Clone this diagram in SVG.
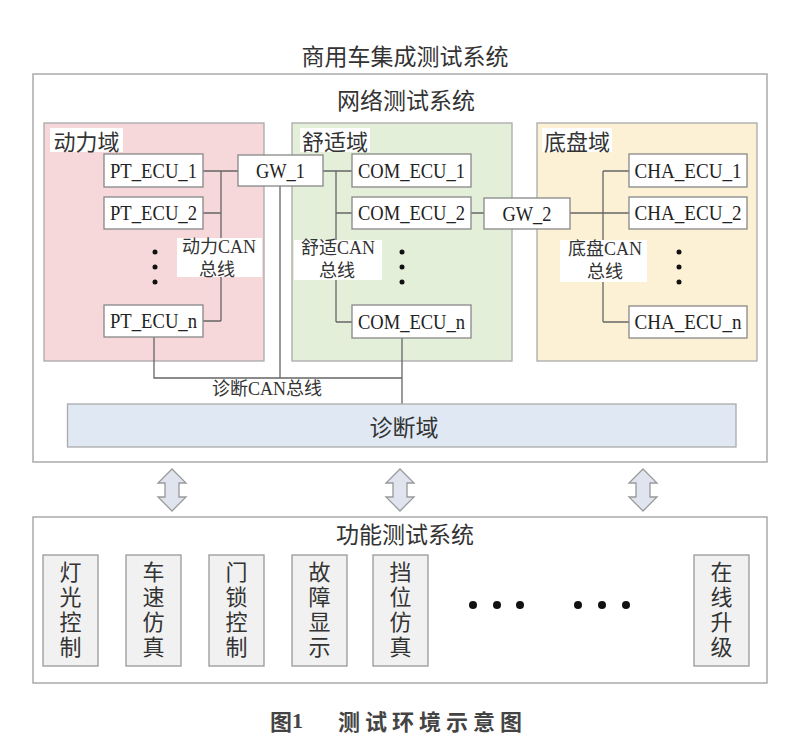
<svg xmlns="http://www.w3.org/2000/svg" width="800" height="753" viewBox="0 0 800 753">
<defs>
<style>
.cjk{font-family:"Noto Sans CJK SC","Noto Sans",sans-serif;fill:#333;}
.ser{font-family:"Liberation Serif","Noto Sans CJK SC",serif;fill:#222;}
.mix{font-family:"Liberation Serif","Noto Sans CJK SC",serif;fill:#333;}
.sys{fill:#fff;stroke:#aaa;stroke-width:1.5;}
.ecu{fill:#fff;stroke:#888;stroke-width:1.3;}
.lbl{fill:#fff;stroke:none;}
.fn{fill:#f1f1f1;stroke:#999;stroke-width:1.3;}
.fnt{font-family:"Noto Sans CJK SC","Noto Sans",sans-serif;fill:#333;font-size:22px;writing-mode:vertical-rl;letter-spacing:3px;}
.arr{fill:#dfe4ee;stroke:#999;stroke-width:1.3;}
.ln{fill:none;stroke:#666;stroke-width:1.3;}
.dot{fill:#111;}
text{dominant-baseline:central;}
</style>
</defs>
<rect width="800" height="753" fill="#fff"/>

<text class="cjk" x="405" y="55" font-size="23" text-anchor="middle">商用车集成测试系统</text>

<g id="network-system">
<rect class="sys" x="33" y="74" width="734" height="388"/>
<text class="cjk" x="406" y="99" font-size="23" text-anchor="middle">网络测试系统</text>
</g>

<g id="power-domain">
<rect x="44" y="123" width="220" height="238" fill="#f6d7da" stroke="#aaa" stroke-width="1.3"/>
<rect class="lbl" x="50" y="128" width="73" height="24"/>
<text class="cjk" x="86.5" y="140" font-size="22" text-anchor="middle">动力域</text>
</g>
<g id="comfort-domain">
<rect x="292" y="123" width="220" height="238" fill="#e4efd9" stroke="#aaa" stroke-width="1.3"/>
<rect class="lbl" x="300" y="128" width="70" height="24"/>
<text class="cjk" x="335" y="140" font-size="22" text-anchor="middle">舒适域</text>
</g>
<g id="chassis-domain">
<rect x="537" y="123" width="220" height="238" fill="#fcf0d5" stroke="#aaa" stroke-width="1.3"/>
<rect class="lbl" x="542" y="128" width="70" height="24"/>
<text class="cjk" x="577" y="140" font-size="22" text-anchor="middle">底盘域</text>
</g>

<g id="connectors">
<path class="ln" d="M221 171 V321 M203 171 H238 M203 213 H221 M203 321 H221"/>
<path class="ln" d="M336 171 V322 M323 171 H352 M336 213 H352 M336 322 H352 M471 213 H484"/>
<path class="ln" d="M603 171 V322 M570 213 H629 M603 171 H629 M603 322 H629"/>
<path class="ln" d="M154 337 V378 H402 M280 186 V378 M402 338 V404"/>
</g>

<g id="bus-labels">
<rect class="lbl" x="177" y="238" width="85" height="39"/>
<text class="mix" x="219" y="247" font-size="18" text-anchor="middle">动力CAN</text>
<text class="cjk" x="217" y="268" font-size="18" text-anchor="middle">总线</text>
<rect class="lbl" x="294" y="240" width="88" height="40"/>
<text class="mix" x="338" y="248" font-size="18" text-anchor="middle">舒适CAN</text>
<text class="cjk" x="337" y="269" font-size="18" text-anchor="middle">总线</text>
<rect class="lbl" x="560" y="240" width="87" height="42"/>
<text class="mix" x="605" y="249" font-size="18" text-anchor="middle">底盘CAN</text>
<text class="cjk" x="605" y="270" font-size="18" text-anchor="middle">总线</text>
<text class="mix" x="267" y="389" font-size="18" text-anchor="middle">诊断CAN总线</text>
</g>

<g id="PT_ECU_1"><rect class="ecu" x="104" y="154" width="99" height="33"/><text class="ser" x="153.5" y="171" font-size="21" text-anchor="middle" textLength="87" lengthAdjust="spacingAndGlyphs">PT_ECU_1</text></g>
<g id="PT_ECU_2"><rect class="ecu" x="104" y="197" width="99" height="32"/><text class="ser" x="153.5" y="213" font-size="21" text-anchor="middle" textLength="87" lengthAdjust="spacingAndGlyphs">PT_ECU_2</text></g>
<g id="PT_ECU_n"><rect class="ecu" x="104" y="305" width="99" height="32"/><text class="ser" x="153.5" y="321" font-size="21" text-anchor="middle" textLength="87" lengthAdjust="spacingAndGlyphs">PT_ECU_n</text></g>
<g id="pt-dots"><circle class="dot" cx="155" cy="252" r="2.5"/><circle class="dot" cx="155" cy="267" r="2.5"/><circle class="dot" cx="155" cy="282" r="2.5"/></g>

<g id="GW_1"><rect class="ecu" x="238" y="155" width="85" height="31"/><text class="ser" x="280.5" y="171" font-size="21" text-anchor="middle" textLength="49" lengthAdjust="spacingAndGlyphs">GW_1</text></g>

<g id="COM_ECU_1"><rect class="ecu" x="352" y="154" width="119" height="33"/><text class="ser" x="411.5" y="171" font-size="21" text-anchor="middle" textLength="107" lengthAdjust="spacingAndGlyphs">COM_ECU_1</text></g>
<g id="COM_ECU_2"><rect class="ecu" x="352" y="197" width="119" height="32"/><text class="ser" x="411.5" y="213" font-size="21" text-anchor="middle" textLength="107" lengthAdjust="spacingAndGlyphs">COM_ECU_2</text></g>
<g id="COM_ECU_n"><rect class="ecu" x="352" y="305" width="119" height="33"/><text class="ser" x="411.5" y="322" font-size="21" text-anchor="middle" textLength="107" lengthAdjust="spacingAndGlyphs">COM_ECU_n</text></g>
<g id="com-dots"><circle class="dot" cx="402" cy="252" r="2.5"/><circle class="dot" cx="402" cy="267" r="2.5"/><circle class="dot" cx="402" cy="282" r="2.5"/></g>

<g id="GW_2"><rect class="ecu" x="484" y="198" width="86" height="31"/><text class="ser" x="527" y="213.5" font-size="21" text-anchor="middle" textLength="49" lengthAdjust="spacingAndGlyphs">GW_2</text></g>

<g id="CHA_ECU_1"><rect class="ecu" x="629" y="154" width="118" height="33"/><text class="ser" x="688" y="171" font-size="21" text-anchor="middle" textLength="107" lengthAdjust="spacingAndGlyphs">CHA_ECU_1</text></g>
<g id="CHA_ECU_2"><rect class="ecu" x="629" y="197" width="118" height="32"/><text class="ser" x="688" y="213" font-size="21" text-anchor="middle" textLength="107" lengthAdjust="spacingAndGlyphs">CHA_ECU_2</text></g>
<g id="CHA_ECU_n"><rect class="ecu" x="629" y="306" width="118" height="32"/><text class="ser" x="688" y="322" font-size="21" text-anchor="middle" textLength="107" lengthAdjust="spacingAndGlyphs">CHA_ECU_n</text></g>
<g id="cha-dots"><circle class="dot" cx="679" cy="252" r="2.5"/><circle class="dot" cx="679" cy="267" r="2.5"/><circle class="dot" cx="679" cy="282" r="2.5"/></g>

<g id="diag-domain">
<rect x="67.5" y="404" width="668.5" height="43" fill="#dfe8f3" stroke="#aaa" stroke-width="1.3"/>
<text class="cjk" x="404" y="426" font-size="23" text-anchor="middle">诊断域</text>
</g>

<g id="arrows">
<polygon class="arr" points="172,469 186,483 179,483 179,497 186,497 172,511 158,497 165,497 165,483 158,483"/>
<polygon class="arr" points="400,469 414,483 407,483 407,497 414,497 400,511 386,497 393,497 393,483 386,483"/>
<polygon class="arr" points="643,469 657,483 650,483 650,497 657,497 643,511 629,497 636,497 636,483 629,483"/>
</g>

<g id="function-system">
<rect class="sys" x="33" y="517" width="734" height="166"/>
<text class="cjk" x="405" y="533" font-size="23" text-anchor="middle">功能测试系统</text>
</g>

<g id="fn-light"><rect class="fn" x="43" y="555" width="55" height="111"/><text class="fnt" x="70.5" y="561">灯光控制</text></g>
<g id="fn-speed"><rect class="fn" x="126" y="555" width="55" height="111"/><text class="fnt" x="153.5" y="561">车速仿真</text></g>
<g id="fn-door"><rect class="fn" x="209" y="555" width="55" height="111"/><text class="fnt" x="236.5" y="561">门锁控制</text></g>
<g id="fn-fault"><rect class="fn" x="292" y="555" width="55" height="111"/><text class="fnt" x="319.5" y="561">故障显示</text></g>
<g id="fn-gear"><rect class="fn" x="373" y="555" width="55" height="111"/><text class="fnt" x="400.5" y="561">挡位仿真</text></g>
<g id="fn-ota"><rect class="fn" x="694" y="555" width="55" height="111"/><text class="fnt" x="721.5" y="561">在线升级</text></g>
<g id="fn-dots">
<circle class="dot" cx="473" cy="605" r="4"/><circle class="dot" cx="497" cy="605" r="4"/><circle class="dot" cx="520" cy="605" r="4"/>
<circle class="dot" cx="578" cy="605" r="4"/><circle class="dot" cx="602" cy="605" r="4"/><circle class="dot" cx="626" cy="605" r="4"/>
</g>

<g id="caption">
<text class="cjk" x="270" y="720" font-size="22" font-weight="bold" style="fill:#444">图<tspan font-family="Liberation Serif">1</tspan></text>
<text class="cjk" x="338" y="720" font-size="22" font-weight="bold" letter-spacing="5" style="fill:#444">测试环境示意图</text>
</g>
</svg>
